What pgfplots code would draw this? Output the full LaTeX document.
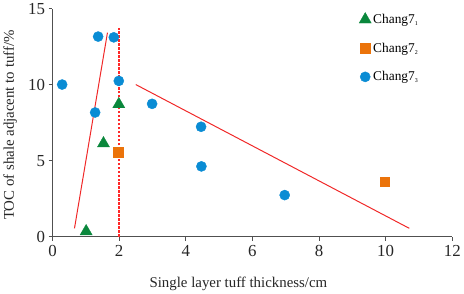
\documentclass[border=0pt]{standalone}
\usepackage{fontspec}
\setmainfont{Liberation Serif}
\usepackage{pgfplots}
\pgfplotsset{compat=1.18}
\definecolor{cgreen}{RGB}{10,135,60}
\definecolor{corange}{RGB}{235,115,10}
\definecolor{cblue}{RGB}{10,140,212}
\definecolor{cred}{RGB}{240,40,40}
\definecolor{cdot}{RGB}{255,40,40}
\definecolor{caxis}{RGB}{80,80,80}
\begin{document}
\begin{tikzpicture}[x=1bp,y=1bp]
\begin{axis}[
  scale only axis,
  width=402bp, height=229bp,
  xmin=0, xmax=12, ymin=0, ymax=15,
  axis lines*=left,
  axis line style={caxis, line width=1.2bp},
  xtick={0,2,4,6,8,10,12}, ytick={0,5,10,15},
  xticklabels={0,2,4,6,8,10,12},
  yticklabels={0,5,10,15},
  tick align=outside,
  major tick length=4bp,
  tick style={caxis, line width=1bp},
  tick label style={font=\fontsize{17}{17}\selectfont, text=black!85},
  xticklabel style={yshift=-1bp},
  xlabel={Single layer tuff thickness/cm},
  ylabel={TOC of shale adjacent to tuff/\%},
  label style={font=\fontsize{15}{15}\selectfont, text=black!85},
  xlabel style={at={(axis description cs:0.465,-0.222)}, anchor=base},
  ylabel style={at={(axis description cs:-0.106,0.49)}, anchor=center},
  clip=false,
  legend style={at={(axis cs:9.2,14.8)}, anchor=north west, draw=none, fill=none,
    font=\fontsize{13.5}{13.5}\selectfont, row sep=14bp, inner sep=0pt,
    /tikz/every even column/.append style={column sep=6bp}},
  legend cell align=left,
  legend image code/.code={\draw[mark repeat=2,mark phase=2] plot coordinates {(0bp,0bp)(6bp,0bp)(12bp,0bp)};},
]
\addplot[color=cdot, line width=1.5bp, dash pattern=on 2.5bp off 1.5bp, forget plot] coordinates {(2,0) (2,13.77)};
\addplot[only marks, color=cgreen, mark=triangle*, mark size=7bp, mark options={solid, fill=cgreen, draw=cgreen}] coordinates {
(1.01,0.35) (1.53,6.14) (1.99,8.72)
};
\addlegendentry{Chang7\textsubscript{\fontsize{6}{6}\selectfont1}}
\addplot[only marks, color=corange, mark=square*, mark size=4.8bp, mark options={solid, fill=corange, draw=corange}] coordinates {
(1.97,5.55) (9.97,3.62)
};
\addlegendentry{Chang7\textsubscript{\fontsize{6}{6}\selectfont2}}
\addplot[only marks, color=cblue, mark=*, mark size=5.1bp, mark options={solid, fill=cblue, draw=cblue}] coordinates {
(1.37,13.18) (1.84,13.13) (0.29,10.02) (1.99,10.26) (1.28,8.18) (2.99,8.75) (4.46,7.24) (4.47,4.63) (6.97,2.74)
};
\addlegendentry{Chang7\textsubscript{\fontsize{6}{6}\selectfont3}}
\addplot[color=cred, line width=1bp, forget plot] coordinates {(0.66,0.55) (1.65,13.44)};
\addplot[color=cred, line width=1bp, forget plot] coordinates {(2.5,10.02) (10.71,0.55)};
\end{axis}
\end{tikzpicture}
\end{document}
